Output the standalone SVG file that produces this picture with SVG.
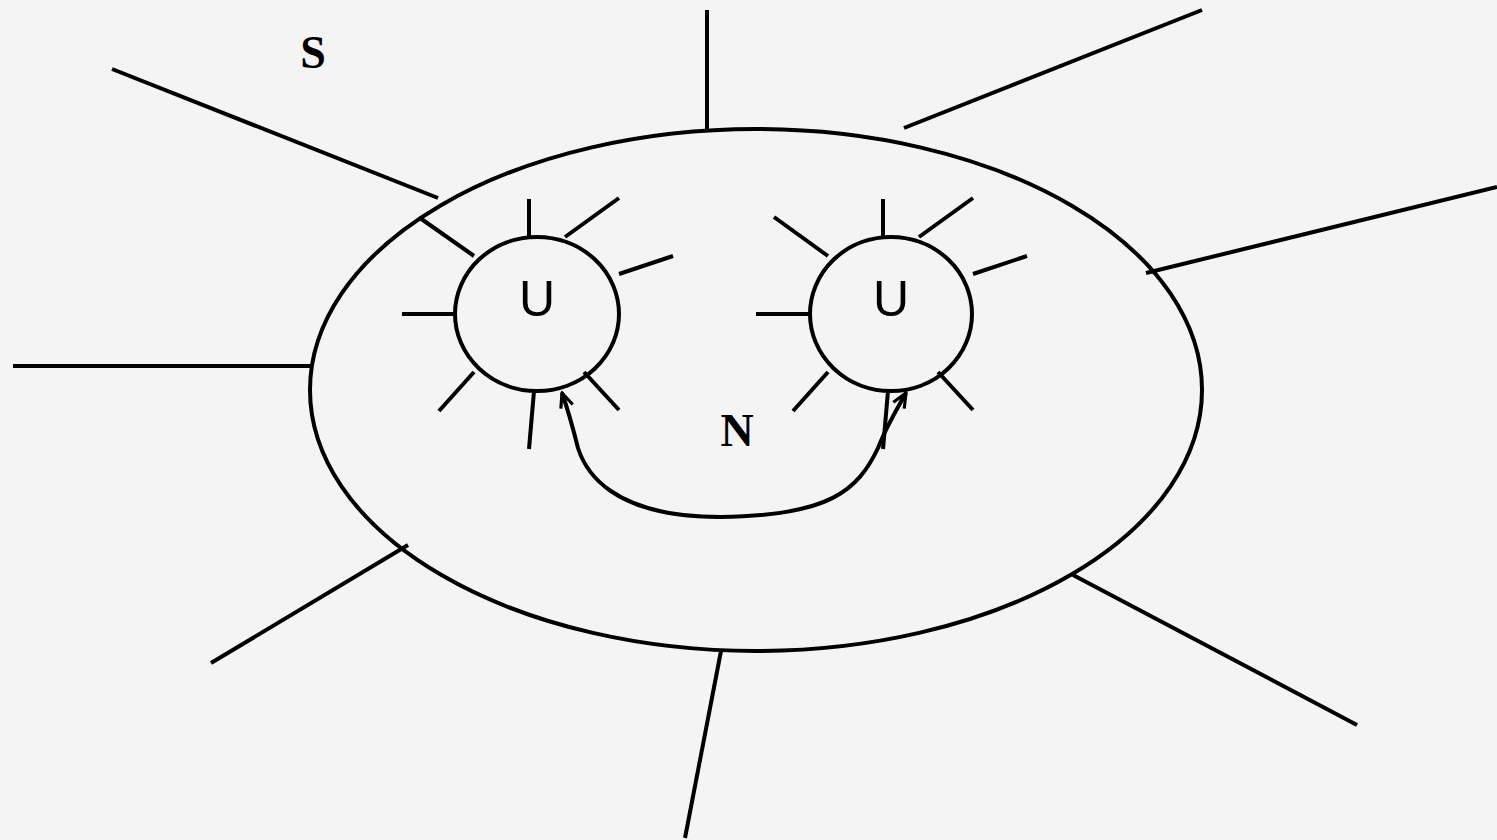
<svg xmlns="http://www.w3.org/2000/svg" width="1497" height="840" viewBox="0 0 1497 840">
<style>
.ln{stroke:#000;stroke-width:4;fill:none}
.lbl{font-family:"Liberation Serif",serif;font-weight:bold;font-size:46px;text-anchor:middle}
.u{font-family:"Liberation Sans",sans-serif;font-size:50px;text-anchor:middle}
</style>
<defs>
<marker id="ah" viewBox="0 0 20 20" refX="18" refY="10" markerWidth="18" markerHeight="18" markerUnits="userSpaceOnUse" orient="auto-start-reverse">
<polyline points="2,3 18,10 2,17" stroke="#000" stroke-width="3.5" fill="none"/>
</marker>
</defs>
<rect width="1497" height="840" fill="#f4f4f4"/>
<g id="S">
<ellipse class="ln" cx="756" cy="390" rx="446" ry="261"/>
<g class="ln">
<line x1="707" y1="10" x2="707" y2="129"/>
<line x1="904" y1="128" x2="1202" y2="10"/>
<line x1="1146" y1="273" x2="1497" y2="187"/>
<line x1="1073" y1="575" x2="1357" y2="725"/>
<line x1="721" y1="651" x2="685" y2="838"/>
<line x1="408" y1="545" x2="211" y2="663"/>
<line x1="13" y1="366" x2="310" y2="366"/>
<line x1="112" y1="69" x2="438" y2="198"/>
</g>
<text class="lbl" x="313" y="68">S</text>
</g>
<text id="N" class="lbl" x="737" y="446">N</text>
<g id="U1">
<ellipse class="ln" cx="537" cy="314" rx="82" ry="77"/>
<g class="ln">
<line x1="529" y1="199" x2="529" y2="236"/>
<line x1="565" y1="237" x2="619" y2="198"/>
<line x1="619" y1="274" x2="673" y2="256"/>
<line x1="402" y1="314" x2="455" y2="314"/>
<line x1="420" y1="218" x2="474" y2="256"/>
<line x1="439" y1="411" x2="474" y2="372"/>
<line x1="534" y1="391" x2="529" y2="449"/>
<line x1="584" y1="372" x2="619" y2="410"/>
</g>
<text class="u" x="537" y="316">U</text>
</g>
<g id="U2">
<ellipse class="ln" cx="891" cy="314" rx="81" ry="77"/>
<g class="ln">
<line x1="883" y1="199" x2="883" y2="236"/>
<line x1="919" y1="237" x2="973" y2="198"/>
<line x1="973" y1="274" x2="1027" y2="256"/>
<line x1="756" y1="314" x2="810" y2="314"/>
<line x1="774" y1="217" x2="828" y2="256"/>
<line x1="793" y1="411" x2="828" y2="372"/>
<line x1="888" y1="391" x2="883" y2="449"/>
<line x1="938" y1="372" x2="973" y2="410"/>
</g>
<text class="u" x="891" y="316">U</text>
</g>
<g id="connectors">
<path class="ln" d="M 906 393 C 895 412 885 430 878 448 C 858 490 830 516 720 517 C 610 517 585 470 578 448 C 573 428 568 410 562 393" marker-start="url(#ah)" marker-end="url(#ah)"/>
</g>
</svg>
